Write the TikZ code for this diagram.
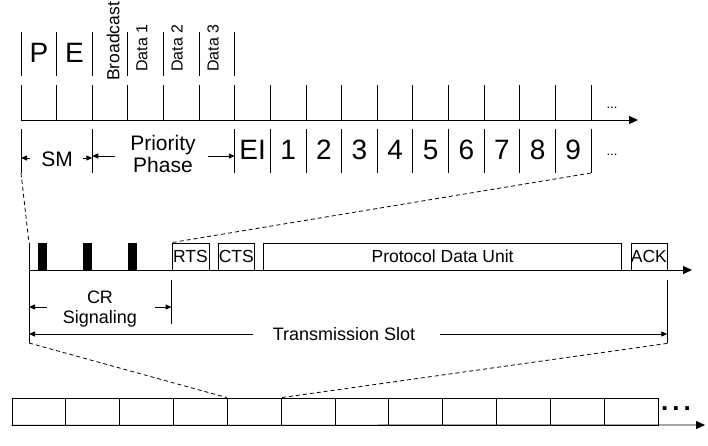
\documentclass[tikz,border=0pt]{standalone}
\usepackage{fontspec}
\setmainfont{Liberation Sans}
\usetikzlibrary{arrows.meta, positioning}
\tikzset{trait/.style={line width=0.9pt}}
\tikzset{ax/.style={trait, -{Triangle[length=9pt,width=8pt]}}}
\tikzset{dim/.style={line width=0.8pt, -{Triangle[length=6pt,width=5pt]}}}
\tikzset{dsh/.style={line width=0.8pt, dash pattern=on 4pt off 3pt}}
\tikzset{fr/.style={rectangle, draw, line width=0.8pt, inner sep=0pt,
  minimum height=27pt, font=\fontsize{17.5}{17.5}\selectfont}}
\tikzset{cell/.style={fr, minimum width=53.83pt}}
\tikzset{big/.style={inner sep=0pt, font=\fontsize{28}{28}\selectfont}}
\tikzset{mid/.style={inner sep=0pt, align=center, font=\fontsize{21}{22}\selectfont}}
\tikzset{small/.style={inner sep=0pt, align=center, font=\fontsize{18}{20}\selectfont}}
\tikzset{vlab/.style={rotate=90, anchor=west, inner sep=0pt, font=\fontsize{16}{16}\selectfont}}

\begin{document}
\begin{tikzpicture}[x=1pt, y=-1pt, node distance=8.5pt]
\useasboundingbox (0,0) rectangle (708,445);
% upper time line
\foreach \i in {0,...,6} \draw[trait] ({21+35.625*\i},32) -- ++(0,44);
\node[big] (p) at (39,53) {P};
\node[big] (e) at (74.5,53) {E};
\node[vlab, font=\fontsize{17.5}{17.5}\selectfont] (bc) at (113,81) {Broadcast};
\node[vlab] (d1) at (142,72) {Data 1};
\node[vlab] (d2) at (177,72) {Data 2};
\node[vlab] (d3) at (213,72) {Data 3};
\foreach \i in {0,...,16} \draw[trait] ({21+35.625*\i},85) -- ++(0,35);
\coordinate (o1) at (21,120); \coordinate (f1) at (638,120);
\draw[ax] (o1) -- (f1);
\node[font=\fontsize{13}{13}\selectfont] (dt1) at (612,108) {...};
\foreach \i in {0,2} \draw[trait] ({21+35.625*\i},129) -- ++(0,44);
\foreach \i in {6,...,16} \draw[trait] ({21+35.625*\i},129) -- ++(0,44);
\foreach \t [count=\k from 0] in {EI,1,2,3,4,5,6,7,8,9}
  \node[big] (s\k) at ({21+35.625*(6.5+\k)},150) {\t};
\node[font=\fontsize{13}{13}\selectfont] (dt2) at (612,155) {...};
\node[mid] (sm) at (57,159) {SM};
\coordinate (sml) at (21,158); \coordinate (smr) at (92.25,158);
\draw[dim] ([xshift=9pt]sml) -- (sml);
\draw[dim] ([xshift=-9pt]smr) -- (smr);
\node[mid] (pp) at (163,154) {Priority\\Phase};
\coordinate (ppl) at (92.25,156); \coordinate (ppr) at (234.75,156);
\draw[dim] ([xshift=-15pt]ppl -| pp.west) -- (ppl);
\draw[dim] ([xshift=12pt]ppr -| pp.east) -- (ppr);
% zoom on one slot
\coordinate (a0) at (21,173); \coordinate (a16) at (591,173);
\foreach \x in {38,83,128} \fill (\x,243) rectangle ++(9,27);
\node[fr, minimum width=37pt] (rts) at (190.5,256.5) {RTS};
\node[fr, minimum width=36pt, right=of rts] (cts) {CTS};
\node[fr, minimum width=358pt, right=of cts] (pdu) {Protocol Data Unit};
\node[fr, minimum width=36pt, right=of pdu] (ack) {ACK};
\coordinate (m0) at (29,243); \coordinate (m1) at (29,343);
\coordinate (f2) at (692,270);
\draw[ax] (m0 |- f2) -- (f2);
\draw[trait] (m0) -- (m1);
\draw[trait] (rts.south west) ++(0,10) -- ++(0,44) coordinate (crr);
\draw[trait] (ack.south east) ++(0,10) -- ++(0,63) coordinate (m2);
\draw[dsh] (a0) -- (m0);
\draw[dsh] (a16) -- (rts.north west);
\node[small] (cr) at (100,309) {CR\\Signaling};
\draw[dim] (47,307) -- (m0 |- 0,307);
\draw[dim] (155,307) -- (crr |- 0,307);
\node[small] (ts) at (344,334) {Transmission Slot};
\draw[dim] ([xshift=-20pt]ts.west) -- (m0 |- ts.west);
\draw[dim] ([xshift=25pt]ts.east) -- (m2 |- ts.east);
% slot sequence
\foreach \i in {1,...,12} \node[cell] (c\i) at ({12+53.83*(\i-0.5)},411.5) {};
\coordinate (f3) at (705,425);
\draw[ax] (c1.south west) -- (f3);
\node[font=\fontsize{26}{26}\selectfont\bfseries] (dt3) at (676,409) {.\hspace{4pt}.\hspace{4pt}.};
\draw[dsh] (m1) -- (c5.north west);
\draw[dsh] (m2) -- (c5.north east);
\end{tikzpicture}
\end{document}
